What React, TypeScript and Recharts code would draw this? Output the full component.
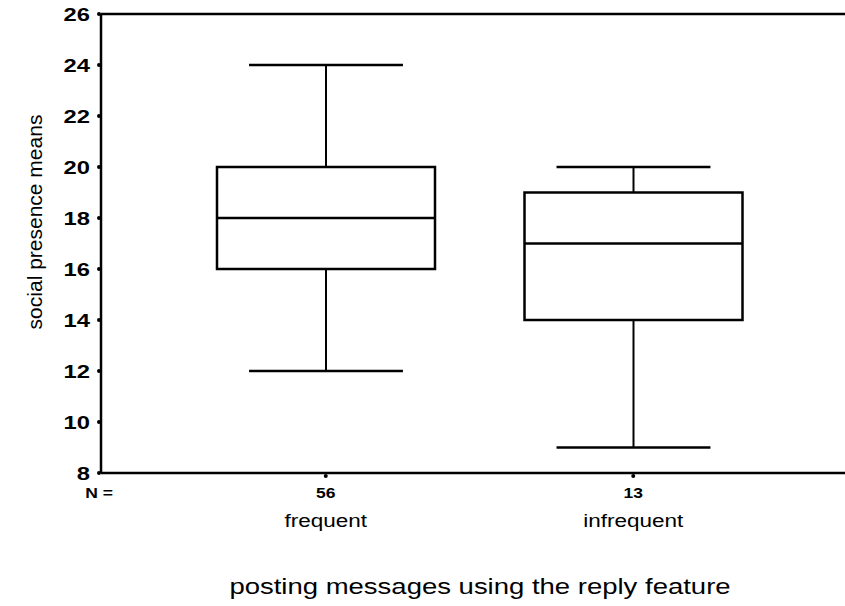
import { ComposedChart, Bar, XAxis, YAxis, ReferenceLine } from "recharts";

// box plot values
const groups = ["frequent", "infrequent"];
const counts = [56, 13];
const whiskerLow = [12, 9];
const boxLow = [16, 14];
const medians = [18, 17];
const boxHigh = [20, 19];
const whiskerHigh = [24, 20];
const yTicks = [8, 10, 12, 14, 16, 18, 20, 22, 24, 26];

const rows = groups.map((g, i) => ({
  group: g,
  n: counts[i],
  min: whiskerLow[i],
  q1: boxLow[i],
  median: medians[i],
  q3: boxHigh[i],
  max: whiskerHigh[i],
}));

const FONT = "'Liberation Sans', Arial, Helvetica, sans-serif";

// the scan is stretched sideways, so flat text gets a horizontal scale
function Txt({ x, y, size, weight = "normal", anchor = "middle", rotate = false, children }: any) {
  const tf = rotate ? `translate(${x},${y}) rotate(-90)` : `translate(${x},${y}) scale(1.25,1)`;
  return (
    <g transform={tf}>
      <text x={0} y={0} textAnchor={anchor} fontSize={size} fontWeight={weight} fontFamily={FONT} fill="#000">
        {children}
      </text>
    </g>
  );
}

function BoxShape(props: any) {
  const { x, y, width, height, payload } = props;
  const top = Math.min(y, y + height);
  const h = Math.abs(height);
  // pixels per unit taken from the bar's own q1..q3 extent
  const unit = h / (payload.q3 - payload.q1);
  const toY = (v: number) => top + (payload.q3 - v) * unit;
  const cx = x + width / 2;
  const cap = width * 0.353;
  const s = { stroke: "#000", strokeWidth: 2 };
  return (
    <g>
      <line x1={cx} x2={cx} y1={toY(payload.max)} y2={toY(payload.q3)} {...s} />
      <line x1={cx} x2={cx} y1={toY(payload.q1)} y2={toY(payload.min)} {...s} />
      <line x1={cx - cap} x2={cx + cap} y1={toY(payload.max)} y2={toY(payload.max)} {...s} strokeWidth={2.5} />
      <line x1={cx - cap} x2={cx + cap} y1={toY(payload.min)} y2={toY(payload.min)} {...s} strokeWidth={2.5} />
      <rect x={x} y={top} width={width} height={h} fill="#fff" {...s} strokeWidth={2.5} />
      <line x1={x} x2={x + width} y1={toY(payload.median)} y2={toY(payload.median)} {...s} strokeWidth={2.5} />
    </g>
  );
}

function YTick(props: any) {
  const { x, y, payload } = props;
  return (
    <g>
      <circle cx={x - 2} cy={y} r={2} fill="#000" />
      <Txt x={x - 11} y={y + 7} size={19} weight="bold" anchor="end">
        {payload.value}
      </Txt>
    </g>
  );
}

function XTick(props: any) {
  const { x, y, index, payload } = props;
  return (
    <g>
      <circle cx={x} cy={y + 3} r={2} fill="#000" />
      <Txt x={x} y={y + 25} size={14} weight="bold">
        {counts[index]}
      </Txt>
      <Txt x={x} y={y + 54} size={18}>
        {payload.value}
      </Txt>
    </g>
  );
}

function XTitle(props: any) {
  const { viewBox } = props;
  const { x, y } = viewBox;
  return (
    <g>
      <Txt x={x - 2} y={y + 25} size={14} weight="bold">
        N =
      </Txt>
      <Txt x={x + 379} y={y + 121} size={22}>
        posting messages using the reply feature
      </Txt>
    </g>
  );
}

function YTitle(props: any) {
  const { viewBox } = props;
  const { y } = viewBox;
  return (
    <Txt x={42} y={y + 208} size={21} rotate>
      social presence means
    </Txt>
  );
}

export default function App() {
  return (
    <div style={{ width: 845, height: 606, background: "#fff" }}>
      <style>{`body{margin:0;background:#fff}`}</style>
      <ComposedChart width={845} height={606} data={rows} margin={{ top: 14, right: 0, bottom: 0, left: 0 }}>
        <XAxis
          dataKey="group"
          type="category"
          padding={{ left: 71, right: 58 }}
          height={133}
          axisLine={{ stroke: "#000", strokeWidth: 2.5 }}
          tickLine={false}
          tickSize={0}
          tickMargin={0}
          tick={<XTick />}
          interval={0}
          label={<XTitle />}
        />
        <YAxis
          type="number"
          domain={[8, 26]}
          ticks={yTicks}
          width={101}
          axisLine={{ stroke: "#000", strokeWidth: 2.5 }}
          tickLine={false}
          tickSize={0}
          tickMargin={0}
          tick={<YTick />}
          interval={0}
          label={<YTitle />}
        />
        <ReferenceLine y={26} stroke="#000" strokeWidth={2.5} />
        <Bar
          dataKey={(d: any) => [d.q1, d.q3]}
          barSize={218}
          shape={<BoxShape />}
          isAnimationActive={false}
        />
      </ComposedChart>
    </div>
  );
}
